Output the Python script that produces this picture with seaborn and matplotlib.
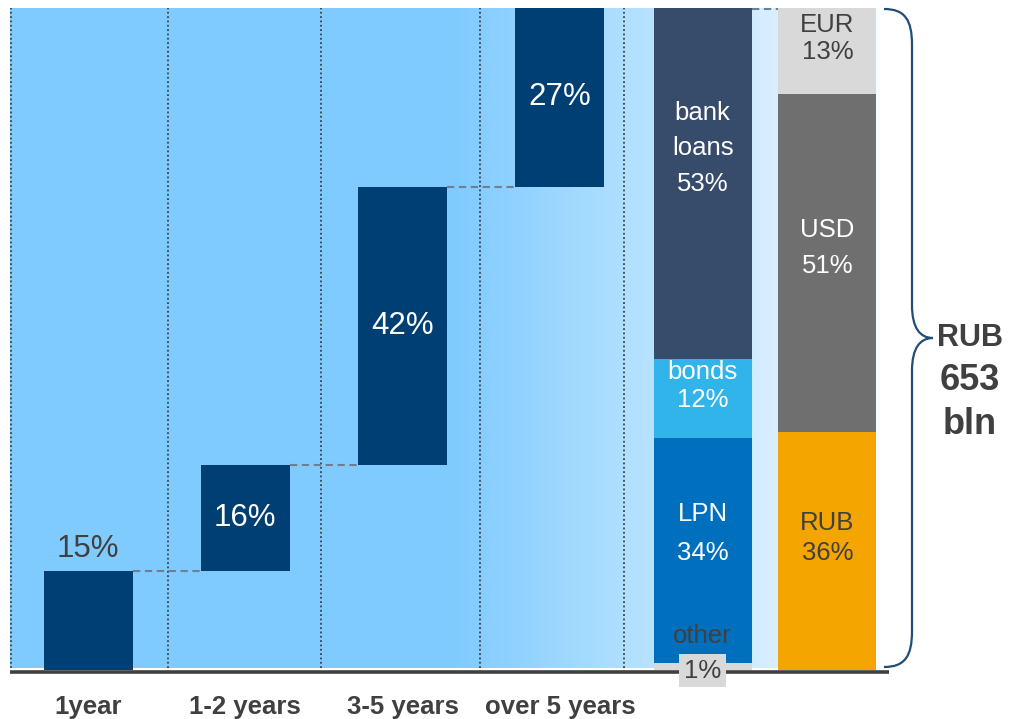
import numpy as np
import matplotlib.pyplot as plt
import seaborn as sns
from matplotlib.colors import LinearSegmentedColormap
from matplotlib.path import Path
from matplotlib.patches import PathPatch

# data
maturity = ["1year", "1-2 years", "3-5 years", "over 5 years"]
maturity_share = [15, 16, 42, 27]

instrument = ["other", "LPN", "bonds", "bank\nloans"]
instrument_share = [1, 34, 12, 53]

currency = ["RUB", "USD", "EUR"]
currency_share = [36, 51, 13]

total_lines = ["RUB", "653", "bln"]

# style
NAVY = "#003f73"
DARK = "#404040"
inst_colors = ["#d9d9d9", "#006fbd", "#30b4ea", "#374b6b"]
inst_text = [DARK, "white", "white", "white"]
cur_colors = ["#f5a500", "#6f6f6f", "#d9d9d9"]
cur_text = [DARK, "white", DARK]

# label line heights (data units) inside the stacked bars
inst_label_y = [[5.1, -0.1], [23.5, 17.6], [45.0, 40.8], [84.2, 78.8, 73.4]]
cur_label_y = [[22.2, 17.6], [66.4, 61.1], [97.4, 93.3]]

sns.set_theme(style="white")
plt.rcParams["font.family"] = ["Liberation Sans", "DejaVu Sans"]

fig = plt.figure(figsize=(10.09, 7.19), dpi=100)
ax = fig.add_axes([10 / 1009, 49 / 719, 870 / 1009, 662 / 719])
XMIN, XMAX = -0.496, -0.496 + 870 / 157.3

# gradient background
cmap = LinearSegmentedColormap.from_list(
    "bg", [(0, "#7fcbff"), (0.517, "#80cbff"), (0.724, "#b4e1ff"),
           (0.885, "#d9efff"), (1, "#f8fcff")])
ax.imshow(np.linspace(0, 1, 512).reshape(1, -1), cmap=cmap, aspect="auto",
          extent=(XMIN, XMAX, 0.3, 100), zorder=0)

# waterfall
wf_x = np.arange(len(maturity))
tops = np.cumsum(maturity_share)
bottoms = tops - np.array(maturity_share)
WF_W = 0.566
sns.barplot(x=wf_x, y=maturity_share, bottom=bottoms, native_scale=True,
            width=WF_W, color=NAVY, saturation=1, errorbar=None,
            linewidth=0, ax=ax, zorder=3)

# stacked bars
stack_x = [3.907, 4.701]
ST_W = 0.623


def stacked(xpos, shares, colors):
    b = 0
    for v, c in zip(shares, colors):
        sns.barplot(x=[xpos], y=[v], bottom=b, native_scale=True, width=ST_W,
                    color=c, saturation=1, errorbar=None, linewidth=0,
                    ax=ax, zorder=3)
        b += v


stacked(stack_x[0], instrument_share, inst_colors)
stacked(stack_x[1], currency_share, cur_colors)

# dividers
for xd in [XMIN + 0.004, 0.51, 1.48, 2.49, 3.41]:
    ax.plot([xd, xd], [0.3, 100], color=DARK, lw=1.3, ls=(0, (1, 1.4)),
            zorder=2, clip_on=False)

# connectors
conn_kw = dict(color="#6e7f91", lw=1.5, ls=(0, (3.5, 2.2)), zorder=2, clip_on=False)
for i in range(len(maturity) - 1):
    ax.plot([wf_x[i] + WF_W / 2, wf_x[i + 1] - WF_W / 2], [tops[i], tops[i]], **conn_kw)
ax.plot([stack_x[0] + ST_W / 2, stack_x[1] - ST_W / 2], [99.8, 99.8], **conn_kw)

# baseline
ax.plot([XMIN, XMAX + 0.06], [-0.35, -0.35], color=DARK, lw=2.6,
        solid_capstyle="butt", zorder=4, clip_on=False)

# waterfall labels
for i, (x, v) in enumerate(zip(wf_x, maturity_share)):
    if i == 0:
        ax.text(x, tops[i] + 3.3, f"{v}%", ha="center", va="center",
                fontsize=22.5, color=DARK, zorder=5)
    else:
        ax.text(x, bottoms[i] + v / 2, f"{v}%", ha="center", va="center",
                fontsize=22.5, color="white", zorder=5)

# stacked labels
for i, (name, v) in enumerate(zip(instrument, instrument_share)):
    lines = name.split("\n") + [f"{v}%"]
    for j, (t, y) in enumerate(zip(lines, inst_label_y[i])):
        kw = {}
        if i == 0 and j == len(lines) - 1:
            kw["bbox"] = dict(boxstyle="square,pad=0.18", fc="#d9d9d9", ec="none")
        ax.text(stack_x[0], y, t, ha="center", va="center", fontsize=18.5,
                color=inst_text[i], zorder=6, clip_on=False, **kw)

for i, (name, v) in enumerate(zip(currency, currency_share)):
    for t, y in zip([name, f"{v}%"], cur_label_y[i]):
        ax.text(stack_x[1], y, t, ha="center", va="center", fontsize=18.5,
                color=cur_text[i], zorder=6)

ax.set_xlim(XMIN, XMAX)
ax.set_ylim(0, 100)
ax.set_xticks(wf_x, maturity)
ax.set_yticks([])
ax.tick_params(axis="x", length=0, pad=18)
for lab in ax.get_xticklabels():
    lab.set_fontweight("bold")
    lab.set_fontsize(18.5)
    lab.set_color(DARK)
sns.despine(ax=ax, left=True, bottom=True)
ax.set_xlabel("")
ax.set_ylabel("")

# brace and total, in pixel coordinates
ov = fig.add_axes([0, 0, 1, 1], facecolor="none")
ov.set_xlim(0, 1009)
ov.set_ylim(719, 0)
ov.axis("off")
verts = [(884, 9), (905, 9), (912, 20), (912, 45), (912, 305),
         (912, 328), (920, 338), (933, 338),
         (920, 338), (912, 348), (912, 371), (912, 631),
         (912, 656), (905, 667), (884, 667)]
codes = [Path.MOVETO, Path.CURVE4, Path.CURVE4, Path.CURVE4, Path.LINETO,
         Path.CURVE4, Path.CURVE4, Path.CURVE4,
         Path.CURVE4, Path.CURVE4, Path.CURVE4, Path.LINETO,
         Path.CURVE4, Path.CURVE4, Path.CURVE4]
ov.add_patch(PathPatch(Path(verts, codes), fc="none", ec="#1f4e79", lw=1.6))
for t, y, fs in zip(total_lines, [338, 381, 424], [22, 26, 26]):
    ov.text(970, y, t, ha="center", va="center", fontsize=fs,
            fontweight="bold", color=DARK)

fig.savefig("out.png", dpi=100)
